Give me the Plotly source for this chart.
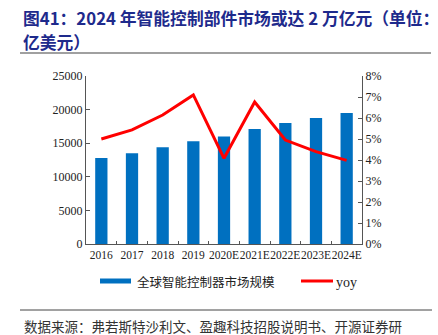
import plotly.graph_objects as go

# Market size of global smart controllers (100M USD) and its growth rate
years = ["2016", "2017", "2018", "2019", "2020E", "2021E", "2022E", "2023E", "2024E"]
market_size = [12800, 13500, 14400, 15300, 16000, 17100, 18000, 18750, 19500]
yoy_pct = [5.0, 5.43, 6.14, 7.1, 4.08, 6.76, 4.95, 4.4, 3.98]

W, H = 438, 335
PX0, PX1, PY0, PY1 = 86, 362, 76, 244  # plot area in pixels


def px(x):
    return (x - PX0) / (PX1 - PX0)


def py(y):
    return (PY1 - y) / (PY1 - PY0)


BAR_COLOR = "#0070C0"
LINE_COLOR = "#FF0000"
TITLE_COLOR = "#1E2A8C"
SERIF = "Liberation Serif, Times New Roman, serif"
CJK = "Noto Sans CJK SC"

fig = go.Figure()
fig.add_trace(go.Bar(
    x=years, y=market_size, name="全球智能控制器市场规模",
    marker=dict(color=BAR_COLOR, line=dict(width=0)),
    yaxis="y",
))
fig.add_trace(go.Scatter(
    x=years, y=[v / 100 for v in yoy_pct], name="yoy", mode="lines",
    line=dict(color=LINE_COLOR, width=3),
    yaxis="y2",
))

axis_line = dict(showline=True, linecolor="#555", linewidth=1,
                 ticks="inside", ticklen=4, tickcolor="#555",
                 showgrid=False, zeroline=False,
                 tickfont=dict(family=SERIF, size=12, color="#222"))

fig.update_layout(
    width=W, height=H,
    margin=dict(l=PX0, r=W - PX1, t=PY0, b=H - PY1),
    paper_bgcolor="white", plot_bgcolor="white",
    showlegend=False,
    bargap=0.6,
    xaxis=dict(axis_line, tickson="boundaries", ticklen=3, tickangle=0,
               tickfont=dict(family=SERIF, size=11.5, color="#222")),
    yaxis=dict(axis_line, range=[0, 25000], dtick=5000, tickformat="d"),
    yaxis2=dict(axis_line, range=[0, 0.08], dtick=0.01, tickformat=".0%",
                overlaying="y", side="right"),
)

# Title, two lines
fig.add_annotation(x=px(21), y=py(18), xref="paper", yref="paper",
                   xanchor="left", yanchor="middle", showarrow=False,
                   text="<b>图41：2024 年智能控制部件市场或达 2 万亿元（单位：</b>",
                   font=dict(family=CJK, size=16.8, color=TITLE_COLOR))
fig.add_annotation(x=px(21), y=py(42), xref="paper", yref="paper",
                   xanchor="left", yanchor="middle", showarrow=False,
                   text="<b>亿美元）</b>",
                   font=dict(family=CJK, size=16.8, color=TITLE_COLOR))
fig.add_shape(type="line", xref="paper", yref="paper",
              x0=px(20), x1=px(431), y0=py(53), y1=py(53),
              line=dict(color="#A0A0A0", width=2))

# Legend
fig.add_shape(type="rect", xref="paper", yref="paper",
              x0=px(100), x1=px(131), y0=py(278.5), y1=py(283.5),
              fillcolor=BAR_COLOR, line=dict(width=0))
fig.add_annotation(x=px(135), y=py(281), xref="paper", yref="paper",
                   xanchor="left", yanchor="middle", showarrow=False,
                   text="全球智能控制器市场规模",
                   font=dict(family=CJK, size=12.5, color="#222"))
fig.add_shape(type="line", xref="paper", yref="paper",
              x0=px(301), x1=px(333), y0=py(281), y1=py(281),
              line=dict(color=LINE_COLOR, width=3))
fig.add_annotation(x=px(334), y=py(282), xref="paper", yref="paper",
                   xanchor="left", yanchor="middle", showarrow=False,
                   text="yoy",
                   font=dict(family=SERIF, size=14, color="#222"))

# Source note (wraps onto a second line)
fig.add_shape(type="line", xref="paper", yref="paper",
              x0=px(20), x1=px(432), y0=py(310), y1=py(310),
              line=dict(color="#444", width=1))
fig.add_annotation(x=px(22), y=py(314), xref="paper", yref="paper",
                   xanchor="left", yanchor="top", showarrow=False, align="left",
                   text="数据来源：弗若斯特沙利文、盈趣科技招股说明书、开源证券研<br>究所",
                   font=dict(family=CJK, size=13.5, color="#333"))

fig.write_html("out.html")
